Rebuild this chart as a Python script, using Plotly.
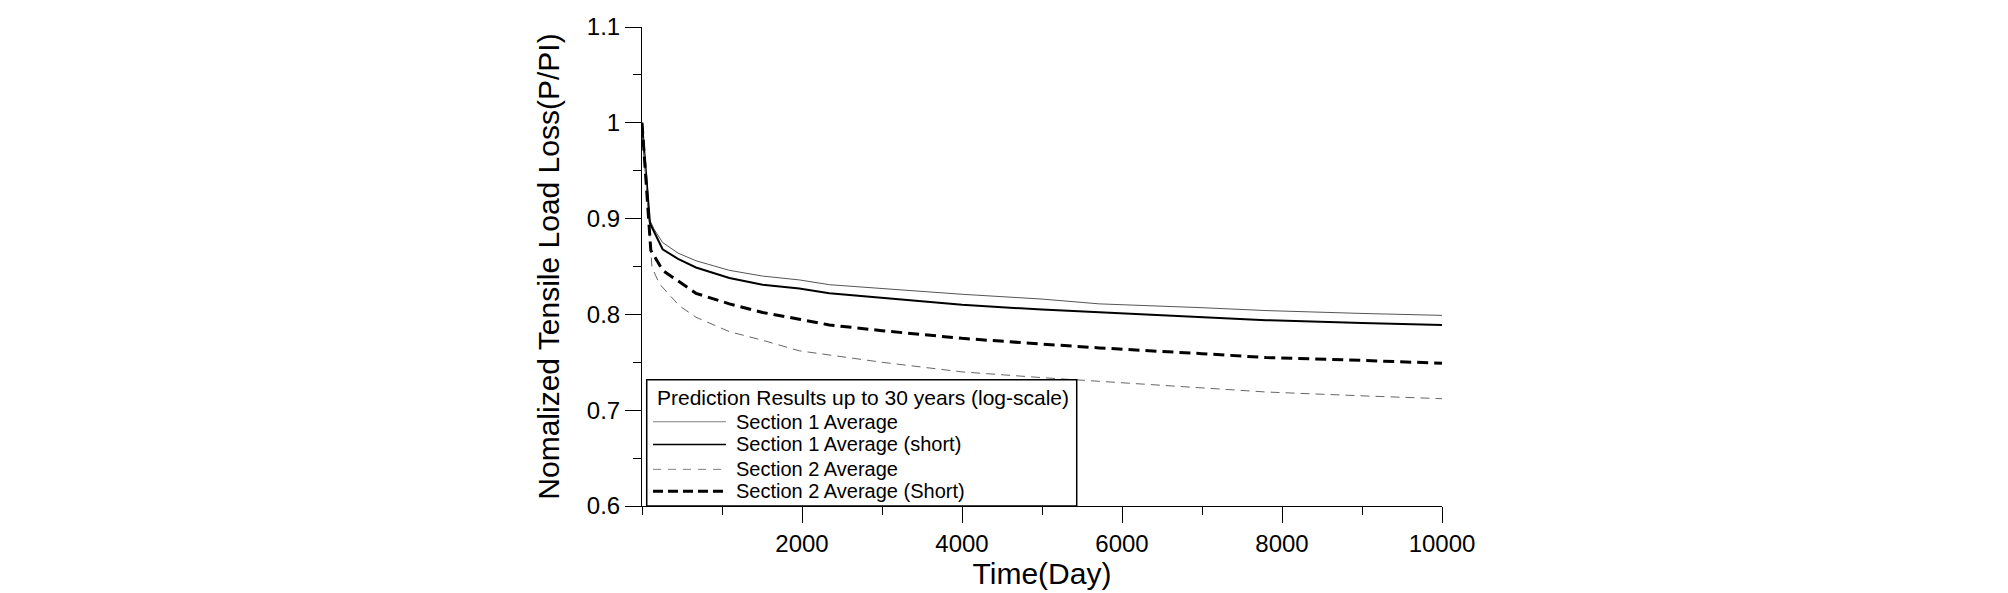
import plotly.graph_objects as go

# Data (time in days, normalized load P/Pi)
t_s1_avg = [0, 90, 150, 258, 450, 675, 1092, 1508, 1966, 2342, 3000, 4000, 5000, 5716, 7000, 7800, 9000, 10000]
v_s1_avg = [1.0, 0.900, 0.889, 0.875, 0.864, 0.856, 0.846, 0.840, 0.836, 0.831, 0.827, 0.821, 0.816, 0.811, 0.807, 0.804, 0.801, 0.799]

t_s1_short = [0, 100, 258, 450, 675, 1092, 1508, 1966, 2342, 3000, 4000, 5000, 5716, 7000, 7800, 9000, 10000]
v_s1_short = [1.0, 0.895, 0.868, 0.858, 0.849, 0.838, 0.831, 0.827, 0.822, 0.817, 0.810, 0.805, 0.802, 0.797, 0.794, 0.791, 0.789]

t_s2_avg = [0, 104, 125, 217, 467, 675, 1092, 1508, 1966, 3000, 4000, 5000, 5716, 7000, 7800, 9000, 10000]
v_s2_avg = [1.0, 0.867, 0.849, 0.832, 0.809, 0.797, 0.782, 0.773, 0.762, 0.750, 0.740, 0.734, 0.730, 0.723, 0.719, 0.715, 0.712]

t_s2_short = [0, 90, 110, 258, 467, 675, 1092, 1508, 1966, 2342, 3000, 4000, 5000, 5716, 7000, 7800, 9000, 10000]
v_s2_short = [1.0, 0.883, 0.867, 0.846, 0.834, 0.822, 0.811, 0.802, 0.795, 0.789, 0.783, 0.775, 0.769, 0.765, 0.759, 0.755, 0.752, 0.749]

names = ["Section 1 Average", "Section 1 Average (short)", "Section 2 Average", "Section 2 Average (Short)"]
legend_title = "Prediction Results up to 30 years (log-scale)"

x_ticks = [2000, 4000, 6000, 8000, 10000]
x_ticklabels = ["2000", "4000", "6000", "8000", "10000"]
y_ticks = [0.6, 0.7, 0.8, 0.9, 1.0, 1.1]
y_ticklabels = ["0.6", "0.7", "0.8", "0.9", "1", "1.1"]

FONT = "Liberation Sans, Arial, sans-serif"

styles = [
    dict(color="#555555", width=1),
    dict(color="#000000", width=2),
    dict(color="#666666", width=1, dash="9px,6px"),
    dict(color="#000000", width=3, dash="11px,6px"),
]
legend_styles = [
    dict(color="#808080", width=1),
    dict(color="#000000", width=1.5),
    dict(color="#808080", width=1, dash="8px,7px"),
    dict(color="#000000", width=3, dash="10px,5px"),
]
series = [(t_s1_avg, v_s1_avg), (t_s1_short, v_s1_short), (t_s2_avg, v_s2_avg), (t_s2_short, v_s2_short)]

fig = go.Figure()
for (tx, vy), nm, st in zip(series, names, styles):
    fig.add_trace(go.Scatter(x=tx, y=vy, mode="lines", name=nm, line=st, showlegend=False))

# Legend box drawn in paper coordinates (bottom-left corner of the plot area)
box = dict(x0=0.0059, x1=0.5434, y0=0.0, y1=0.2637)
row_y = [0.1759, 0.1284, 0.0765, 0.0310]
shapes = [dict(type="rect", xref="paper", yref="paper", layer="above",
               fillcolor="white", line=dict(color="black", width=1.5), **box)]
annotations = [dict(xref="paper", yref="paper", x=0.0163, y=0.2262, xanchor="left", yanchor="middle",
                    text=legend_title, showarrow=False,
                    font=dict(family=FONT, size=21, color="black"))]
for ry, nm, st in zip(row_y, names, legend_styles):
    shapes.append(dict(type="line", xref="paper", yref="paper", layer="above",
                       x0=0.01375, x1=0.105, y0=ry, y1=ry, line=st))
    annotations.append(dict(xref="paper", yref="paper", x=0.115, y=ry, xanchor="left", yanchor="middle",
                            text=nm, showarrow=False,
                            font=dict(family=FONT, size=20, color="black")))

fig.update_layout(
    width=2008, height=593,
    # page body adds an 8px offset; margins compensate for it
    margin=dict(l=634, r=574, t=5, b=95),
    paper_bgcolor="white", plot_bgcolor="white",
    font=dict(family=FONT, color="black"),
    showlegend=False,
    shapes=shapes,
    annotations=annotations,
    xaxis=dict(
        range=[0, 10000], showgrid=False, zeroline=False,
        showline=True, linecolor="black", linewidth=1,
        tickmode="array", tickvals=x_ticks, ticktext=x_ticklabels,
        ticks="outside", ticklen=16, tickcolor="black", tickwidth=1,
        tickfont=dict(family=FONT, size=24, color="black"),
        minor=dict(dtick=1000, tick0=0, ticks="outside", ticklen=8, tickcolor="black", tickwidth=1, showgrid=False),
        title=dict(text="Time(Day)", font=dict(family=FONT, size=30, color="black"), standoff=4),
    ),
    yaxis=dict(
        range=[0.6, 1.1], showgrid=False, zeroline=False,
        showline=True, linecolor="black", linewidth=1,
        tickmode="array", tickvals=y_ticks, ticktext=y_ticklabels,
        ticks="outside", ticklen=16, tickcolor="black", tickwidth=1,
        ticklabeloverflow="allow",
        tickfont=dict(family=FONT, size=24, color="black"),
        minor=dict(dtick=0.05, tick0=0.6, ticks="outside", ticklen=8, tickcolor="black", tickwidth=1, showgrid=False),
        title=dict(text="Nomalized Tensile Load Loss(P/PI)", font=dict(family=FONT, size=30, color="black"), standoff=18),
    ),
)

fig.write_html("out.html")
